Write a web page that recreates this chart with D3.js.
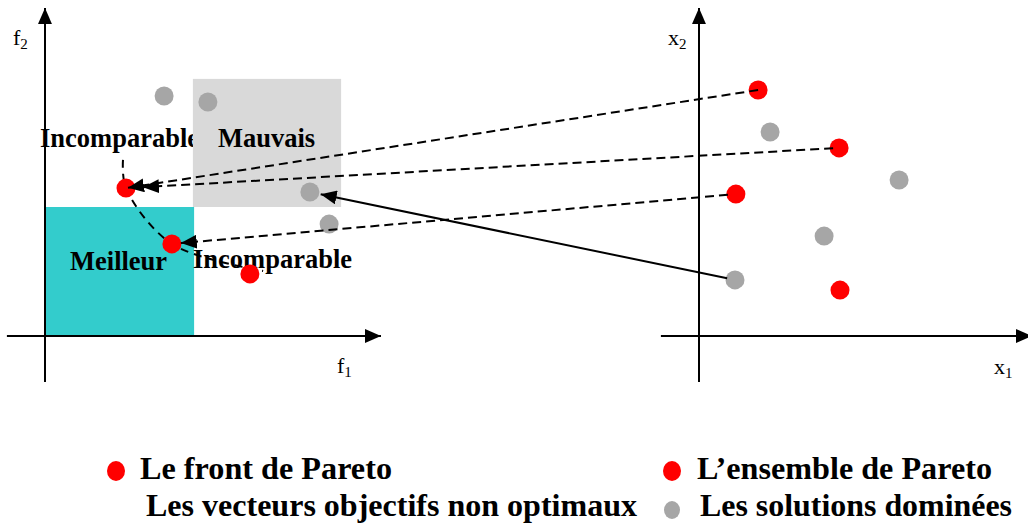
<!DOCTYPE html>
<html>
<head>
<meta charset="utf-8">
<script src="https://cdn.jsdelivr.net/npm/d3@7"></script>
<style>
  body { margin: 0; background: #fff; }
  svg { display: block; font-family: "Liberation Serif", "Times New Roman", serif; }
</style>
</head>
<body>
<svg id="chart" width="1028" height="527"></svg>
<script>
// objective space (left) : f1 / f2
var frontPts  = [[2.70, 4.93], [4.23, 3.07], [6.83, 2.07]];              // front de Pareto
var nonOptPts = [[3.97, 8.00], [5.43, 7.80], [8.83, 4.80], [9.47, 3.73]]; // vecteurs non optimaux
var frontCurve = [[2.60, 5.87], [2.70, 4.93], [4.23, 3.07], [7.27, 2.17]];
var zoneBest = [0, 0, 4.97, 4.30];       // x0, y0, x1, y1
var zoneBad  = [4.93, 4.30, 9.87, 8.57];
var zoneLabels = ["Incomparable", "Mauvais", "Meilleur", "Incomparable"];

// decision space (right) : x1 / x2
var paretoSet = [[1.97, 8.20], [4.67, 6.27], [1.23, 4.73], [4.70, 1.53]];
var dominated = [[2.37, 6.80], [6.67, 5.20], [4.17, 3.33], [1.20, 1.87]];

// mapping decision -> objective
var links = [
  {src: "set", i: 0, dst: "front", j: 0, dashed: true},
  {src: "set", i: 1, dst: "front", j: 0, dashed: true},
  {src: "set", i: 2, dst: "front", j: 1, dashed: true},
  {src: "dom", i: 3, dst: "nonopt", j: 2, dashed: false}
];

var legendLabels = ["Le front de Pareto", "Les vecteurs objectifs non optimaux",
                    "L\u2019ensemble de Pareto", "Les solutions domin\u00e9es"];

var RED = "#ff0000", GREY = "#a6a6a6";

var svg = d3.select("#chart");

var xl = d3.scaleLinear().domain([0, 10]).range([45, 345]);
var yl = d3.scaleLinear().domain([0, 10]).range([336, 36]);
var xr = d3.scaleLinear().domain([0, 10]).range([699, 999]);
var yr = yl;

svg.append("defs").append("marker")
    .attr("id", "head")
    .attr("viewBox", "0 0 16 14")
    .attr("refX", 16).attr("refY", 7)
    .attr("markerWidth", 16).attr("markerHeight", 14)
    .attr("markerUnits", "userSpaceOnUse")
    .attr("orient", "auto")
  .append("path")
    .attr("d", "M0,0L16,7L0,14Z")
    .attr("fill", "#000");

// first label sits under the "Mauvais" box
svg.append("text")
    .attr("x", 40).attr("y", 147)
    .attr("font-size", 26.5).attr("font-weight", "bold")
    .text(zoneLabels[0]);

// zones
function zone(z, col) {
  svg.append("rect")
      .attr("x", xl(z[0])).attr("y", yl(z[3]))
      .attr("width", xl(z[2]) - xl(z[0]))
      .attr("height", yl(z[1]) - yl(z[3]))
      .attr("fill", col);
}
zone(zoneBest, "#33cccc");
zone(zoneBad, "#d9d9d9");

svg.append("text").attr("x", 218).attr("y", 147)
    .attr("font-size", 26.5).attr("font-weight", "bold").text(zoneLabels[1]);
svg.append("text").attr("x", 70).attr("y", 270)
    .attr("font-size", 26.5).attr("font-weight", "bold").text(zoneLabels[2]);
svg.append("text").attr("x", 193).attr("y", 268)
    .attr("font-size", 26.5).attr("font-weight", "bold").text(zoneLabels[3]);

// axes
function axes(xs, ys, xEnd) {
  svg.append("line")
      .attr("x1", xs(-1.27)).attr("y1", ys(0))
      .attr("x2", xs(xEnd)).attr("y2", ys(0))
      .attr("stroke", "#000").attr("stroke-width", 2)
      .attr("marker-end", "url(#head)");
  svg.append("line")
      .attr("x1", xs(0)).attr("y1", ys(-1.53))
      .attr("x2", xs(0)).attr("y2", ys(10.93))
      .attr("stroke", "#000").attr("stroke-width", 2)
      .attr("marker-end", "url(#head)");
}
axes(xl, yl, 11.2);
axes(xr, yr, 11.1);

function axisLabel(x, y, main, sub) {
  var t = svg.append("text").attr("x", x).attr("y", y).attr("font-size", 22);
  t.append("tspan").text(main);
  t.append("tspan").attr("font-size", 15).attr("dy", 4).text(sub);
}
axisLabel(13, 45, "f", "2");
axisLabel(337, 373, "f", "1");
axisLabel(668, 45, "x", "2");
axisLabel(994, 374, "x", "1");

// pareto front curve
svg.append("path")
    .datum(frontCurve)
    .attr("d", d3.line().x(function(d) { return xl(d[0]); })
                        .y(function(d) { return yl(d[1]); })
                        .curve(d3.curveCatmullRom))
    .attr("fill", "none")
    .attr("stroke", "#000").attr("stroke-width", 2)
    .attr("stroke-dasharray", "8,6");

// points
function dots(data, xs, ys, col) {
  svg.append("g").selectAll("circle")
      .data(data).enter()
      .append("circle")
      .attr("cx", function(d) { return xs(d[0]); })
      .attr("cy", function(d) { return ys(d[1]); })
      .attr("r", 9.5)
      .attr("fill", col);
}
dots(frontPts, xl, yl, RED);
dots(nonOptPts, xl, yl, GREY);
dots(paretoSet, xr, yr, RED);
dots(dominated, xr, yr, GREY);

// links
var startGap = [0, 6, 8, 8];
var tipGap = [2, 17, 9, 11];
function px(kind, k) {
  if (kind === "set") return [xr(paretoSet[k][0]), yr(paretoSet[k][1])];
  if (kind === "dom") return [xr(dominated[k][0]), yr(dominated[k][1])];
  if (kind === "front") return [xl(frontPts[k][0]), yl(frontPts[k][1])];
  return [xl(nonOptPts[k][0]), yl(nonOptPts[k][1])];
}
svg.append("g").selectAll("line")
    .data(links).enter()
    .append("line")
    .each(function(d, i) {
      var a = px(d.src, d.i), b = px(d.dst, d.j);
      var dx = b[0] - a[0], dy = b[1] - a[1];
      var len = Math.sqrt(dx * dx + dy * dy);
      var ux = dx / len, uy = dy / len;
      d3.select(this)
        .attr("x1", a[0] + ux * startGap[i]).attr("y1", a[1] + uy * startGap[i])
        .attr("x2", b[0] - ux * tipGap[i]).attr("y2", b[1] - uy * tipGap[i]);
    })
    .attr("stroke", "#000").attr("stroke-width", 2)
    .attr("stroke-dasharray", function(d) { return d.dashed ? "9,5" : null; })
    .attr("marker-end", "url(#head)");

// legend
var legendPos = [[140, 479, 252], [146, 516, 491], [697, 479, 295], [700, 516, 312]];
var legendDot = [RED, null, RED, GREY];
var legDotPos = [[116, 471], null, [672, 471], [672, 510]];

var leg = svg.append("g").selectAll("g")
    .data(legendLabels).enter()
    .append("g");
leg.append("text")
    .attr("x", function(d, i) { return legendPos[i][0]; })
    .attr("y", function(d, i) { return legendPos[i][1]; })
    .attr("textLength", function(d, i) { return legendPos[i][2]; })
    .attr("lengthAdjust", "spacingAndGlyphs")
    .attr("font-size", 31).attr("font-weight", "bold")
    .text(function(d) { return d; });
leg.filter(function(d, i) { return legendDot[i]; })
    .append("ellipse")
    .attr("cx", function(d) { return legDotPos[legendLabels.indexOf(d)][0]; })
    .attr("cy", function(d) { return legDotPos[legendLabels.indexOf(d)][1]; })
    .attr("rx", function(d) { return legendLabels.indexOf(d) === 3 ? 8 : 9; })
    .attr("ry", function(d) { return legendLabels.indexOf(d) === 3 ? 9 : 10; })
    .attr("fill", function(d) { return legendDot[legendLabels.indexOf(d)]; });
</script>
</body>
</html>
